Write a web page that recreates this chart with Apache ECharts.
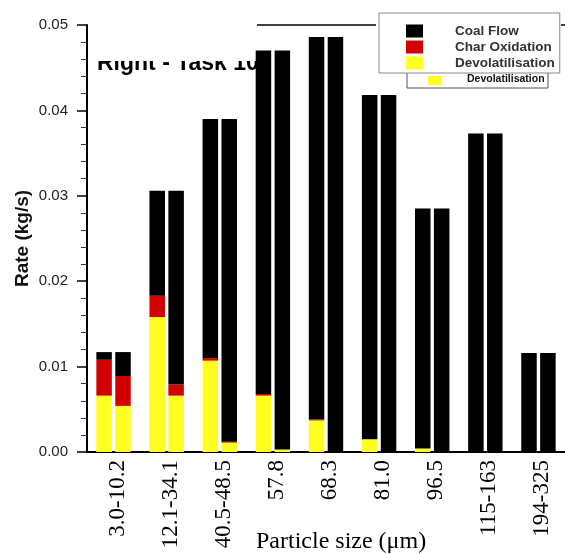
<!DOCTYPE html>
<html>
<head>
<meta charset="utf-8">
<script src="https://cdn.jsdelivr.net/npm/echarts@6/dist/echarts.min.js"></script>
<style>html,body{margin:0;padding:0;background:#fff}#c{width:565px;height:554px}</style>
</head>
<body>
<div id="c"></div>
<script>
// Categories (particle size, µm)
const categories = ['3.0-10.2','12.1-34.1','40.5-48.5','57.8','68.3','81.0','96.5','115-163','194-325'];
const yTickLabels = ['0.00','0.01','0.02','0.03','0.04','0.05'];

// Left bar of each pair (stacked segments, kg/s)
const leftDevol = [0.0066, 0.0158, 0.0107, 0.0066, 0.0037, 0.0015, 0.0004, 0, 0];
const leftChar  = [0.0042, 0.0025, 0.0003, 0.0002, 0.0001, 0, 0, 0, 0];
const leftCoal  = [0.0009, 0.0123, 0.0280, 0.0402, 0.0448, 0.0403, 0.0281, 0.0373, 0.0116];

// Right bar of each pair (stacked segments, kg/s)
const rightDevol = [0.0054, 0.0066, 0.0011, 0.0003, 0, 0, 0, 0, 0];
const rightChar  = [0.0035, 0.0013, 0.0001, 0, 0, 0, 0, 0, 0];
const rightCoal  = [0.0028, 0.0227, 0.0378, 0.0467, 0.0486, 0.0418, 0.0285, 0.0373, 0.0116];

const COL = {coal:'#000000', char:'#d20000', devol:'#ffff22'};
const prep = a => a.map(v => v === 0 ? '-' : v);
function bar(name, data, stack, color){
  return {name, type:'bar', stack, data:prep(data), barWidth:15.5, barGap:'22%',
    itemStyle:{color}, emphasis:{disabled:true}};
}

const chart = echarts.init(document.getElementById('c'), null, {renderer:'canvas'});
chart.setOption({
  animation:false,
  grid:{left:87, right:0, top:25, bottom:102, containLabel:false},
  legend:{
    data:['Coal Flow','Char Oxidation','Devolatilisation'],
    orient:'vertical', left:379, top:13,
    backgroundColor:'#fff', borderColor:'#888', borderWidth:1,
    padding:[10,5,2,27], itemGap:0, itemWidth:17, itemHeight:13,
    icon:'rect', selectedMode:false,
    textStyle:{fontFamily:'Liberation Sans, Arial', fontWeight:'bold', fontSize:13.5, color:'#333', lineHeight:16, padding:[0,0,0,27]}
  },
  xAxis:{
    type:'category', data:categories,
    axisLine:{lineStyle:{color:'#000', width:2}},
    axisTick:{alignWithLabel:true, length:10, lineStyle:{color:'#000', width:1.5}},
    axisLabel:{interval:0, rotate:90, margin:8, fontFamily:'Liberation Serif, Times New Roman', fontSize:23, color:'#000',
      verticalAlign:'top', lineHeight:8}
  },
  yAxis:{
    type:'value', min:0, max:0.05, interval:0.01,
    name:'Rate (kg/s)', nameLocation:'middle', nameRotate:90, nameGap:55, nameMoveOverlap:false,
    nameTextStyle:{fontFamily:'Liberation Sans, Arial', fontWeight:'bold', fontSize:19, color:'#111'},
    axisLine:{show:true, lineStyle:{color:'#000', width:2}},
    axisTick:{show:true, length:10, lineStyle:{color:'#000', width:1.5}},
    minorTick:{show:true, splitNumber:5, length:6, lineStyle:{color:'#333', width:1}},
    splitLine:{show:false},
    axisLabel:{margin:19, fontFamily:'Liberation Sans, Arial', fontSize:15, color:'#222',
      formatter:(v)=>yTickLabels[Math.round(v/0.01)]}
  },
  graphic:[
    {type:'text', z:0, left:97, top:52, style:{text:'Right - Task 10', fontFamily:'Liberation Sans, Arial', fontWeight:'bold', fontSize:23, fill:'#000'}},
    {type:'rect', z:1, shape:{x:90, y:35, width:166, height:26}, style:{fill:'#fff'}},
    {type:'line', z:1, shape:{x1:257, y1:25, x2:376, y2:25}, style:{stroke:'#000', lineWidth:1.5}},
    {type:'line', z:1, shape:{x1:561, y1:25, x2:565, y2:25}, style:{stroke:'#000', lineWidth:1.5}},
    {type:'rect', z:3, shape:{x:407, y:60, width:141, height:28}, style:{fill:'#fff', stroke:'#555', lineWidth:1}},
    {type:'rect', z:3, shape:{x:428, y:76, width:14, height:9}, style:{fill:'#ffff22'}},
    {type:'text', z:3, left:467, top:74, style:{text:'Devolatilisation', fontFamily:'Liberation Sans, Arial', fontWeight:'bold', fontSize:10.5, fill:'#111'}},
    {type:'text', z:3, left:256, top:530, style:{text:'Particle size (μm)', fontFamily:'Liberation Serif, Times New Roman', fontSize:24, fill:'#000'}}
  ],
  series:[
    bar('Devolatilisation', leftDevol, 'L', COL.devol),
    bar('Char Oxidation', leftChar, 'L', COL.char),
    bar('Coal Flow', leftCoal, 'L', COL.coal),
    bar('Devolatilisation', rightDevol, 'R', COL.devol),
    bar('Char Oxidation', rightChar, 'R', COL.char),
    bar('Coal Flow', rightCoal, 'R', COL.coal)
  ]
});
</script>
</body>
</html>
